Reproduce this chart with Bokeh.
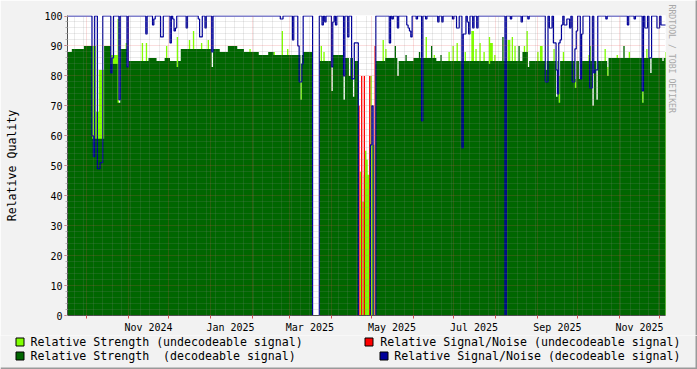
from datetime import date
from bokeh.plotting import figure
from bokeh.models import FixedTicker, Range1d, Title
from bokeh.layouts import column, row
from bokeh.embed import file_html
from bokeh.resources import INLINE
from bokeh.core.properties import value

# ---------------------------------------------------------------- data
START = date(2024, 9, 17)          # day 0 of the series (one sample per day)
N_DAYS = 445

TICK_LABELS = ["Nov 2024", "Jan 2025", "Mar 2025", "May 2025", "Jul 2025", "Sep 2025", "Nov 2025"]
TICK_DATES = ["2024-11-16", "2025-01-16", "2025-03-16", "2025-05-16", "2025-07-16", "2025-09-16", "2025-11-16"]
MONTH_STARTS = ["2024-10-01", "2024-11-01", "2024-12-01", "2025-01-01", "2025-02-01", "2025-03-01",
                "2025-04-01", "2025-05-01", "2025-06-01", "2025-07-01", "2025-08-01", "2025-09-01",
                "2025-10-01", "2025-11-01", "2025-12-01"]

# Relative Strength (decodeable): (first day, level) runs ...
STRENGTH_DEC_RUNS = [
    (0, 88), (3, 89), (12, 90), (18, 59), (27, 90), (32, 84), (39, 89), (45, 85),
    (60, 86), (66, 85), (72, 86), (76, 85), (84, 89), (113, 88), (119, 90), (126, 89),
    (131, 88), (142, 87), (149, 88), (153, 87), (175, 88), (182, 0), (187, 85), (197, 87),
    (206, 86), (213, 85), (216, 0), (229, 85), (236, 86), (246, 85), (257, 86), (274, 85),
    (338, 88), (343, 85), (401, 86),
]
# ... and single-day values (day, value)
STRENGTH_DEC_DAYS = [
    (37, 71), (38, 71), (44, 83), (81, 83), (107, 83), (173, 72),
    (196, 75), (205, 72), (209, 80), (212, 73), (243, 90), (245, 80), (251, 87), (261, 88),
    (270, 90), (277, 87), (313, 84), (323, 93), (335, 90), (342, 83), (355, 82), (363, 73),
    (365, 71), (377, 76), (380, 79), (390, 70), (393, 72), (401, 80), (413, 90), (427, 71),
    (433, 81), (442, 85),
]
# Relative Strength (undecodeable): (day, value), other days 0
STRENGTH_UNDEC = [
    (18, 90), (19, 90), (20, 90), (21, 68), (22, 68), (23, 82), (24, 82), (25, 82), (26, 82),
    (32, 87), (33, 87), (34, 87), (35, 87), (36, 87), (37, 99), (43, 91), (55, 91), (58, 91),
    (73, 90), (81, 93), (90, 92), (93, 95), (99, 91), (104, 92), (135, 89), (153, 88),
    (159, 95), (163, 89), (173, 84), (180, 88), (188, 90), (190, 88),
    (217, 48), (219, 38), (220, 47), (221, 55), (222, 52), (223, 47), (224, 47), (225, 80),
    (226, 57), (227, 57), (234, 92), (236, 89), (266, 93), (272, 87), (283, 88), (286, 90),
    (289, 91), (295, 88), (300, 95), (301, 95), (303, 89), (306, 91), (309, 88), (313, 93),
    (314, 91), (315, 91), (317, 87), (327, 92), (328, 92), (330, 93), (332, 90), (339, 90),
    (341, 95), (349, 88), (351, 90), (352, 90), (361, 89), (365, 80), (368, 88), (377, 79),
    (387, 87), (388, 90), (399, 89), (401, 83), (408, 87), (417, 88), (427, 76), (430, 89),
    (444, 88),
]
# Relative Signal/Noise (decodeable): (day, value), other days 100
SNR_DEC_DIPS = [
    (18, 60), (19, 53), (22, 49), (23, 49), (24, 51), (25, 51), (32, 81), (33, 86), (38, 72),
    (44, 83), (58, 94), (63, 97), (64, 99), (69, 93), (70, 93), (76, 91), (78, 99), (79, 95),
    (80, 96), (88, 96), (97, 99), (98, 93), (99, 93), (102, 96), (107, 88), (158, 99), (159, 99),
    (167, 92), (171, 90), (172, 78), (173, 78), (174, 84),
    (182, 0), (183, 0), (184, 0), (185, 0), (186, 0),
    (189, 97), (191, 98), (196, 83), (197, 98), (199, 97), (205, 80), (208, 93), (211, 79),
    (212, 79), (213, 91), (214, 91), (215, 91),
    (216, 0), (217, 0), (218, 0), (219, 0), (220, 0), (221, 0), (222, 0), (223, 0), (224, 0),
    (225, 57), (226, 70), (227, 0), (228, 0),
    (239, 91), (241, 99), (245, 96), (252, 97), (253, 96), (254, 95), (255, 93), (259, 99),
    (263, 65), (266, 99), (275, 98), (278, 98), (286, 99), (289, 96), (290, 96), (293, 56),
    (294, 94), (295, 94), (297, 98), (298, 94), (301, 96), (304, 96), (325, 0), (329, 99),
    (337, 98), (342, 99), (355, 78), (356, 78), (358, 96), (359, 96), (361, 91), (362, 91),
    (363, 82), (364, 74), (365, 91), (366, 92), (367, 97), (369, 97), (370, 97), (371, 99),
    (372, 99), (373, 96), (375, 78), (376, 78), (377, 89), (378, 95), (381, 79), (382, 94),
    (388, 76), (389, 76), (391, 81), (392, 82), (393, 82), (400, 99), (416, 97), (421, 99),
    (427, 75), (429, 96), (430, 96), (432, 86), (433, 86), (438, 96), (439, 96), (441, 97),
    (442, 97), (443, 97), (444, 97),
]
# Relative Signal/Noise (undecodeable): only present from day 216 on
SNR_UNDEC_FIRST_DAY = 216
SNR_UNDEC = [70, 0, 80, 0, 80, 0, 0, 0, 80, 0, 0, 0, 90]

LEGEND_LABELS = ["Relative Strength (undecodeable signal)",
                 "Relative Signal/Noise (undecodeable signal)",
                 "Relative Strength  (decodeable signal)",
                 "Relative Signal/Noise (decodeable signal)"]

LIGHT, RED, DARK, BLUE = "#80FF00", "#FF0000", "#006600", "#000099"
BACK = "#F2F2F2"
SHADE = "#9A9A9A"
MONO = "DejaVu Sans Mono"

# ---------------------------------------------------------------- build series
def day_of(s):
    y, m, d = (int(t) for t in s.split("-"))
    return (date(y, m, d) - START).days

str_dec = []
for i, (d0, v) in enumerate(STRENGTH_DEC_RUNS):
    d1 = STRENGTH_DEC_RUNS[i + 1][0] if i + 1 < len(STRENGTH_DEC_RUNS) else N_DAYS
    str_dec.extend([v] * (d1 - d0))
for d, v in STRENGTH_DEC_DAYS:
    str_dec[d] = v
str_undec = [0] * N_DAYS
for d, v in STRENGTH_UNDEC:
    str_undec[d] = v
snr_dec = [100] * N_DAYS
for d, v in SNR_DEC_DIPS:
    snr_dec[d] = v


def steps(vals, first=0):
    xs, ys = [], []
    for i, v in enumerate(vals):
        xs += [first + i, first + i + 1]
        ys += [v, v]
    return xs, ys


tick_days = [day_of(s) for s in TICK_DATES]
month_days = [day_of(s) for s in MONTH_STARTS]
first_sunday = (6 - START.weekday()) % 7
sundays = [d for d in range(first_sunday, N_DAYS, 7) if d not in month_days]

# ---------------------------------------------------------------- main chart
W, H = 697, 369
PW, PH = 695, 335                          # main figure (2 px right shade beside it)
FL, FR, FT, FB = 67, 665, 15, 315          # frame edges in canvas pixels
X0, X1 = -0.2, 444.35
YTOP = 100.17
p = figure(width=PW, height=PH, x_range=Range1d(X0, X1), y_range=Range1d(0, YTOP),
           output_backend="svg", toolbar_location=None, frame_align=False,
           min_border_left=FL, min_border_right=PW - FR, min_border_top=FT, min_border_bottom=PH - FB,
           background_fill_color="white", border_fill_color=BACK, outline_line_color=None)

xs, ys = steps(str_undec)
p.varea(x=xs, y1=0, y2=ys, fill_color=LIGHT)
xs, ys = steps(str_dec)
p.varea(x=xs, y1=0, y2=ys, fill_color=DARK)
# undecodeable S/N: a one-pixel line that rises from 0 on the days it has a value
red_x = [SNR_UNDEC_FIRST_DAY + i + 0.5 for i, v in enumerate(SNR_UNDEC) if v > 0]
red_y = [v for v in SNR_UNDEC if v > 0]
p.segment(x0=red_x, y0=[0] * len(red_x), x1=red_x, y1=red_y, line_color=RED, line_width=1.3)
xs, ys = steps(snr_dec)
p.line(xs, ys, line_color=BLUE, line_width=1.2)

# grids (drawn over the data, as rrdtool does)
p.xgrid.ticker = FixedTicker(ticks=month_days, minor_ticks=sundays)
p.ygrid.ticker = FixedTicker(ticks=list(range(10, 100, 10)),
                             minor_ticks=[v for v in range(2, 100, 2) if v % 10])
for g in (p.xgrid, p.ygrid):
    g.level = "overlay"
    g.grid_line_color = "#E65050"
    g.grid_line_alpha = 0.38
    g.grid_line_dash = "1 1"
    g.minor_grid_line_color = "#8C8C8C"
    g.minor_grid_line_alpha = 0.35
    g.minor_grid_line_dash = "1 1"

xa = p.xaxis[0]
xa.ticker = FixedTicker(ticks=tick_days, minor_ticks=month_days)
xa.major_label_overrides = {d: lab for d, lab in zip(tick_days, TICK_LABELS)}
xa.major_tick_out = 0
xa.major_tick_in = 0
xa.minor_tick_out = 3
xa.minor_tick_in = 0
xa.minor_tick_line_color = "#D05050"
xa.major_label_standoff = 3

ya = p.yaxis[0]
ya.ticker = FixedTicker(ticks=list(range(0, 101, 10)), minor_ticks=list(range(0, 101, 2)))
ya.major_tick_out = 3
ya.major_tick_in = 0
ya.major_tick_line_color = "#D05050"
ya.minor_tick_out = 2
ya.minor_tick_in = 0
ya.minor_tick_line_color = "#B0B0B0"
ya.major_label_standoff = 2
ya.axis_label = "Relative Quality"
ya.axis_label_standoff = 22
ya.axis_label_text_font = MONO
ya.axis_label_text_font_size = "11.6px"
ya.axis_label_text_font_style = "normal"
ya.axis_label_text_color = "#000000"

for ax in (xa, ya):
    ax.axis_line_color = "#505050"
    ax.major_label_text_font = MONO
    ax.major_label_text_font_size = "10px"
    ax.major_label_text_color = "#000000"

p.add_layout(Title(text="RRDTOOL / TOBI OETIKER", align="left", offset=-11,
                   text_font=MONO, text_font_size="8.2px", text_font_style="normal",
                   text_color="#A8A8A8", standoff=2), "right")

# right shade strip beside the chart
rb = figure(width=W - PW, height=PH, output_backend="svg", toolbar_location=None,
            frame_align=False, min_border=0, x_axis_location=None, y_axis_location=None,
            background_fill_color=SHADE, border_fill_color=SHADE, outline_line_color=None)
rb.xgrid.visible = False
rb.ygrid.visible = False

# ---------------------------------------------------------------- legend strip
lg = figure(width=W, height=H - PH, x_range=Range1d(0, W), y_range=Range1d(H, PH),
            output_backend="svg", toolbar_location=None, frame_align=False, min_border=0,
            x_axis_location=None, y_axis_location=None,
            background_fill_color=BACK, border_fill_color=BACK, outline_line_color=None)
lg.xgrid.visible = False
lg.ygrid.visible = False

# keep the double space visible in SVG text
shown = [lab.replace("  ", " \u00a0") for lab in LEGEND_LABELS]
colors = [LIGHT, RED, DARK, BLUE]
box_x = [19.5, 368.5, 19.5, 383.5]
box_y = [341.5, 341.5, 355.5, 355.5]
lg.rect(x=box_x, y=box_y, width=8, height=8, fill_color=colors, line_color="black", line_width=1)
lg.text(x=[30, 30], y=[341.5, 355.0], text=[shown[0], shown[2]],
        text_align="left", text_baseline="middle", text_font=value(MONO),
        text_font_size="11.6px", text_color="#000000")
lg.text(x=[680, 680], y=[341.5, 355.0], text=[shown[1], shown[3]],
        text_align="right", text_baseline="middle", text_font=value(MONO),
        text_font_size="11.6px", text_color="#000000")
# canvas shade along the bottom and right edges
lg.quad(left=[0, W - 2], right=[W, W], bottom=[H, PH], top=[H - 2, H],
        fill_color=SHADE, line_color=None)

layout = column(row(p, rb), lg)
open("out.html", "w").write(file_html(layout, INLINE))
